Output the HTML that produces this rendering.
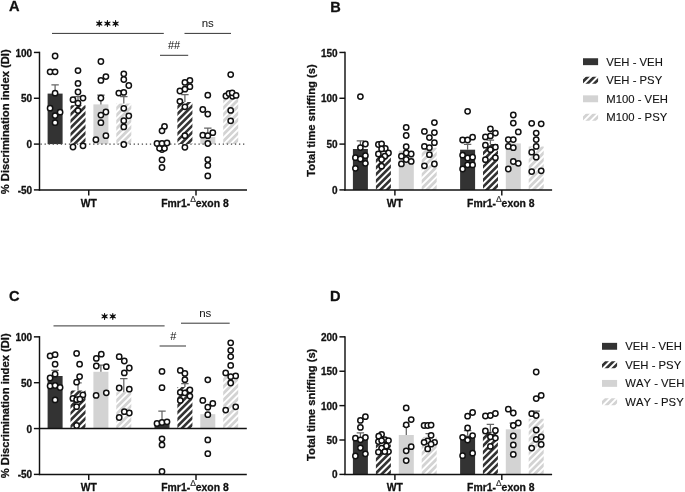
<!DOCTYPE html>
<html><head><meta charset="utf-8"><title>Figure</title>
<style>
html,body{margin:0;padding:0;background:#fff;}
body{width:685px;height:492px;overflow:hidden;font-family:"Liberation Sans",sans-serif;}
svg{display:block;font-family:"Liberation Sans",sans-serif;will-change:transform;filter:blur(0.35px);}
text{fill:#111;}
text[font-weight="bold"]{stroke:#111;stroke-width:0.28px;stroke-linejoin:round;}
</style></head>
<body>
<svg width="685" height="492" viewBox="0 0 685 492">
<rect width="685" height="492" fill="#fff"/>
<g id="content">
<g class="panel">
<rect x="47.60" y="93.60" width="15.00" height="50.50" fill="#333333"/>
<clipPath id="c1"><rect x="70.50" y="105.20" width="15.00" height="38.90"/></clipPath>
<rect x="70.50" y="105.20" width="15.00" height="38.90" fill="#fff"/>
<path d="M68.50 103.42L87.50 84.42M68.50 110.06L87.50 91.06M68.50 116.70L87.50 97.70M68.50 123.34L87.50 104.34M68.50 129.98L87.50 110.98M68.50 136.62L87.50 117.62M68.50 143.26L87.50 124.26M68.50 149.90L87.50 130.90M68.50 156.54L87.50 137.54M68.50 163.18L87.50 144.18" stroke="#333333" stroke-width="2.65" fill="none" clip-path="url(#c1)"/>
<rect x="93.40" y="104.40" width="15.00" height="39.70" fill="#d3d3d3"/>
<clipPath id="c2"><rect x="116.30" y="103.60" width="15.00" height="40.50"/></clipPath>
<rect x="116.30" y="103.60" width="15.00" height="40.50" fill="#fff"/>
<path d="M114.30 104.10L133.30 85.10M114.30 110.74L133.30 91.74M114.30 117.38L133.30 98.38M114.30 124.02L133.30 105.02M114.30 130.66L133.30 111.66M114.30 137.30L133.30 118.30M114.30 143.94L133.30 124.94M114.30 150.58L133.30 131.58M114.30 157.22L133.30 138.22M114.30 163.86L133.30 144.86" stroke="#d3d3d3" stroke-width="2.8" fill="none" clip-path="url(#c2)"/>
<clipPath id="c3"><rect x="177.40" y="102.00" width="15.00" height="42.10"/></clipPath>
<rect x="177.40" y="102.00" width="15.00" height="42.10" fill="#fff"/>
<path d="M175.40 102.76L194.40 83.76M175.40 109.40L194.40 90.40M175.40 116.04L194.40 97.04M175.40 122.68L194.40 103.68M175.40 129.32L194.40 110.32M175.40 135.96L194.40 116.96M175.40 142.60L194.40 123.60M175.40 149.24L194.40 130.24M175.40 155.88L194.40 136.88M175.40 162.52L194.40 143.52" stroke="#333333" stroke-width="2.65" fill="none" clip-path="url(#c3)"/>
<rect x="200.30" y="137.00" width="15.00" height="7.10" fill="#d3d3d3"/>
<clipPath id="c4"><rect x="223.20" y="98.00" width="15.00" height="46.10"/></clipPath>
<rect x="223.20" y="98.00" width="15.00" height="46.10" fill="#fff"/>
<path d="M221.20 96.80L240.20 77.80M221.20 103.44L240.20 84.44M221.20 110.08L240.20 91.08M221.20 116.72L240.20 97.72M221.20 123.36L240.20 104.36M221.20 130.00L240.20 111.00M221.20 136.64L240.20 117.64M221.20 143.28L240.20 124.28M221.20 149.92L240.20 130.92M221.20 156.56L240.20 137.56M221.20 163.20L240.20 144.20" stroke="#d3d3d3" stroke-width="2.8" fill="none" clip-path="url(#c4)"/>
<path d="M55.10 93.60V84.80M51.40 84.80H58.80" stroke="#666" stroke-width="1.25" fill="none"/>
<path d="M78.00 105.20V96.50M74.30 96.50H81.70" stroke="#666" stroke-width="1.25" fill="none"/>
<path d="M100.90 104.40V95.20M97.20 95.20H104.60" stroke="#666" stroke-width="1.25" fill="none"/>
<path d="M123.80 103.60V96.50M120.10 96.50H127.50" stroke="#666" stroke-width="1.25" fill="none"/>
<path d="M184.90 102.00V94.50M181.20 94.50H188.60" stroke="#666" stroke-width="1.25" fill="none"/>
<path d="M207.80 137.00V128.20M204.10 128.20H211.50" stroke="#666" stroke-width="1.25" fill="none"/>
<path d="M40.5 144.1H247" stroke="#444" stroke-width="1.45" stroke-dasharray="1.3 2.75" fill="none"/>
<path d="M39.5 51.73V190.62" stroke="#111111" stroke-width="1.45" fill="none"/>
<path d="M38.78 189.9H247" stroke="#111111" stroke-width="1.45" fill="none"/>
<path d="M33.9 52.45H39.5" stroke="#111111" stroke-width="1.45"/>
<text x="32.10" y="56.50" font-size="10" font-weight="bold" text-anchor="end" >100</text>
<path d="M33.9 98.27H39.5" stroke="#111111" stroke-width="1.45"/>
<text x="32.10" y="102.32" font-size="10" font-weight="bold" text-anchor="end" >50</text>
<path d="M33.9 144.1H39.5" stroke="#111111" stroke-width="1.45"/>
<text x="32.10" y="148.15" font-size="10" font-weight="bold" text-anchor="end" >0</text>
<path d="M33.9 189.9H39.5" stroke="#111111" stroke-width="1.45"/>
<text x="32.10" y="193.95" font-size="10" font-weight="bold" text-anchor="end" >-50</text>
<path d="M88.75 189.9V195.4" stroke="#111111" stroke-width="1.45"/>
<path d="M196 189.9V195.4" stroke="#111111" stroke-width="1.45"/>
<text x="88.75" y="206.90" font-size="10.4" font-weight="bold" text-anchor="middle" >WT</text>
<text x="195.00" y="206.90" font-size="10.4" font-weight="bold" text-anchor="middle">Fmr1-<tspan font-size="8.5" font-weight="normal" stroke="#222" stroke-width="0.1" fill="#222" dy="-5.3">Δ</tspan><tspan dy="5.3">exon 8</tspan></text>
<text transform="translate(8.7 121.8) rotate(-90)" font-size="11.2" font-weight="bold" text-anchor="middle">% Discrimination index (DI)</text>
<g fill="#fff" stroke="#111" stroke-width="1.5">
<circle cx="55.10" cy="56.00" r="2.65"/>
<circle cx="50.10" cy="71.80" r="2.65"/>
<circle cx="55.10" cy="71.80" r="2.65"/>
<circle cx="55.10" cy="93.20" r="2.65"/>
<circle cx="50.10" cy="108.20" r="2.65"/>
<circle cx="60.10" cy="112.20" r="2.65"/>
<circle cx="55.10" cy="115.60" r="2.65"/>
<circle cx="55.10" cy="122.70" r="2.65"/>
<circle cx="78.00" cy="70.60" r="2.65"/>
<circle cx="78.00" cy="83.40" r="2.65"/>
<circle cx="78.00" cy="92.00" r="2.65"/>
<circle cx="73.00" cy="99.70" r="2.65"/>
<circle cx="83.00" cy="98.10" r="2.65"/>
<circle cx="78.00" cy="103.20" r="2.65"/>
<circle cx="78.00" cy="110.60" r="2.65"/>
<circle cx="73.00" cy="147.00" r="2.65"/>
<circle cx="83.00" cy="145.80" r="2.65"/>
<circle cx="100.90" cy="61.50" r="2.65"/>
<circle cx="105.90" cy="76.60" r="2.65"/>
<circle cx="100.90" cy="80.40" r="2.65"/>
<circle cx="100.90" cy="98.00" r="2.65"/>
<circle cx="105.90" cy="112.00" r="2.65"/>
<circle cx="100.90" cy="115.10" r="2.65"/>
<circle cx="100.90" cy="122.70" r="2.65"/>
<circle cx="105.90" cy="135.70" r="2.65"/>
<circle cx="95.90" cy="139.70" r="2.65"/>
<circle cx="123.80" cy="73.80" r="2.65"/>
<circle cx="123.80" cy="79.50" r="2.65"/>
<circle cx="128.80" cy="85.50" r="2.65"/>
<circle cx="118.80" cy="93.10" r="2.65"/>
<circle cx="123.80" cy="92.40" r="2.65"/>
<circle cx="123.80" cy="108.30" r="2.65"/>
<circle cx="128.80" cy="115.80" r="2.65"/>
<circle cx="123.80" cy="120.70" r="2.65"/>
<circle cx="123.80" cy="126.90" r="2.65"/>
<circle cx="123.80" cy="144.50" r="2.65"/>
<circle cx="164.50" cy="126.40" r="2.65"/>
<circle cx="162.00" cy="130.80" r="2.65"/>
<circle cx="157.00" cy="143.50" r="2.65"/>
<circle cx="162.00" cy="143.50" r="2.65"/>
<circle cx="167.00" cy="143.00" r="2.65"/>
<circle cx="162.00" cy="149.50" r="2.65"/>
<circle cx="159.50" cy="148.30" r="2.65"/>
<circle cx="164.50" cy="148.30" r="2.65"/>
<circle cx="162.00" cy="159.80" r="2.65"/>
<circle cx="162.00" cy="167.50" r="2.65"/>
<circle cx="189.90" cy="80.40" r="2.65"/>
<circle cx="184.90" cy="82.40" r="2.65"/>
<circle cx="189.90" cy="86.70" r="2.65"/>
<circle cx="184.90" cy="89.20" r="2.65"/>
<circle cx="179.90" cy="91.00" r="2.65"/>
<circle cx="179.90" cy="101.30" r="2.65"/>
<circle cx="184.90" cy="106.80" r="2.65"/>
<circle cx="184.90" cy="135.70" r="2.65"/>
<circle cx="184.90" cy="147.30" r="2.65"/>
<circle cx="207.80" cy="95.20" r="2.65"/>
<circle cx="202.80" cy="109.50" r="2.65"/>
<circle cx="207.80" cy="114.10" r="2.65"/>
<circle cx="212.80" cy="132.70" r="2.65"/>
<circle cx="202.80" cy="135.20" r="2.65"/>
<circle cx="207.80" cy="135.70" r="2.65"/>
<circle cx="207.80" cy="143.50" r="2.65"/>
<circle cx="207.80" cy="159.60" r="2.65"/>
<circle cx="207.80" cy="165.40" r="2.65"/>
<circle cx="207.80" cy="175.90" r="2.65"/>
<circle cx="230.70" cy="74.60" r="2.65"/>
<circle cx="225.90" cy="96.00" r="2.65"/>
<circle cx="229.00" cy="93.50" r="2.65"/>
<circle cx="232.60" cy="96.30" r="2.65"/>
<circle cx="232.20" cy="92.80" r="2.65"/>
<circle cx="236.10" cy="95.40" r="2.65"/>
<circle cx="230.70" cy="110.40" r="2.65"/>
<circle cx="230.70" cy="120.80" r="2.65"/>
</g>
<path d="M52 33.4H163.8" stroke="#2a2a2a" stroke-width="0.95"/>
<polygon points="98.29,23.58 98.86,27.08 99.62,27.08 100.19,23.58" fill="#111"/>
<polygon points="98.77,24.40 102.08,25.66 102.46,25.00 99.72,22.76" fill="#111"/>
<polygon points="99.72,24.40 102.46,22.16 102.08,21.50 98.77,22.76" fill="#111"/>
<polygon points="100.19,23.58 99.62,20.08 98.86,20.08 98.29,23.58" fill="#111"/>
<polygon points="99.72,22.76 96.40,21.50 96.02,22.16 98.77,24.40" fill="#111"/>
<polygon points="98.77,22.76 96.02,25.00 96.40,25.66 99.72,24.40" fill="#111"/>
<circle cx="99.24" cy="23.58" r="1.35" fill="#111"/>
<polygon points="106.47,23.58 107.04,27.08 107.80,27.08 108.37,23.58" fill="#111"/>
<polygon points="106.95,24.40 110.26,25.66 110.64,25.00 107.89,22.76" fill="#111"/>
<polygon points="107.89,24.40 110.64,22.16 110.26,21.50 106.95,22.76" fill="#111"/>
<polygon points="108.37,23.58 107.80,20.08 107.04,20.08 106.47,23.58" fill="#111"/>
<polygon points="107.89,22.76 104.58,21.50 104.20,22.16 106.95,24.40" fill="#111"/>
<polygon points="106.95,22.76 104.20,25.00 104.58,25.66 107.89,24.40" fill="#111"/>
<circle cx="107.42" cy="23.58" r="1.35" fill="#111"/>
<polygon points="114.65,23.58 115.22,27.08 115.98,27.08 116.55,23.58" fill="#111"/>
<polygon points="115.12,24.40 118.44,25.66 118.82,25.00 116.07,22.76" fill="#111"/>
<polygon points="116.07,24.40 118.82,22.16 118.44,21.50 115.12,22.76" fill="#111"/>
<polygon points="116.55,23.58 115.98,20.08 115.22,20.08 114.65,23.58" fill="#111"/>
<polygon points="116.07,22.76 112.76,21.50 112.38,22.16 115.12,24.40" fill="#111"/>
<polygon points="115.12,22.76 112.38,25.00 112.76,25.66 116.07,24.40" fill="#111"/>
<circle cx="115.60" cy="23.58" r="1.35" fill="#111"/>
<path d="M184.5 33.4H231" stroke="#2a2a2a" stroke-width="0.95"/>
<text x="207.80" y="26.60" font-size="11.5" font-weight="normal" text-anchor="middle" fill="#111">ns</text>
<path d="M160 55.3H188.2" stroke="#2a2a2a" stroke-width="0.95"/>
<text x="174.00" y="49.30" font-size="11" font-weight="normal" text-anchor="middle" fill="#111">##</text>
<text x="9.00" y="11.40" font-size="14.6" font-weight="bold" text-anchor="start" >A</text>
</g>
<g class="panel">
<rect x="352.90" y="149.00" width="15.00" height="40.90" fill="#333333"/>
<clipPath id="c5"><rect x="375.90" y="154.70" width="15.00" height="35.20"/></clipPath>
<rect x="375.90" y="154.70" width="15.00" height="35.20" fill="#fff"/>
<path d="M373.90 156.58L392.90 137.58M373.90 163.22L392.90 144.22M373.90 169.86L392.90 150.86M373.90 176.50L392.90 157.50M373.90 183.14L392.90 164.14M373.90 189.78L392.90 170.78M373.90 196.42L392.90 177.42M373.90 203.06L392.90 184.06M373.90 209.70L392.90 190.70" stroke="#333333" stroke-width="2.65" fill="none" clip-path="url(#c5)"/>
<rect x="398.80" y="150.70" width="15.00" height="39.20" fill="#d3d3d3"/>
<clipPath id="c6"><rect x="421.70" y="147.70" width="15.00" height="42.20"/></clipPath>
<rect x="421.70" y="147.70" width="15.00" height="42.20" fill="#fff"/>
<path d="M419.70 150.62L438.70 131.62M419.70 157.26L438.70 138.26M419.70 163.90L438.70 144.90M419.70 170.54L438.70 151.54M419.70 177.18L438.70 158.18M419.70 183.82L438.70 164.82M419.70 190.46L438.70 171.46M419.70 197.10L438.70 178.10M419.70 203.74L438.70 184.74M419.70 210.38L438.70 191.38" stroke="#d3d3d3" stroke-width="2.8" fill="none" clip-path="url(#c6)"/>
<rect x="460.10" y="149.70" width="15.00" height="40.20" fill="#333333"/>
<clipPath id="c7"><rect x="482.90" y="143.90" width="15.00" height="46.00"/></clipPath>
<rect x="482.90" y="143.90" width="15.00" height="46.00" fill="#fff"/>
<path d="M480.90 142.54L499.90 123.54M480.90 149.18L499.90 130.18M480.90 155.82L499.90 136.82M480.90 162.46L499.90 143.46M480.90 169.10L499.90 150.10M480.90 175.74L499.90 156.74M480.90 182.38L499.90 163.38M480.90 189.02L499.90 170.02M480.90 195.66L499.90 176.66M480.90 202.30L499.90 183.30M480.90 208.94L499.90 189.94" stroke="#333333" stroke-width="2.65" fill="none" clip-path="url(#c7)"/>
<rect x="505.80" y="143.40" width="15.00" height="46.50" fill="#d3d3d3"/>
<clipPath id="c8"><rect x="528.70" y="146.40" width="15.00" height="43.50"/></clipPath>
<rect x="528.70" y="146.40" width="15.00" height="43.50" fill="#fff"/>
<path d="M526.70 149.86L545.70 130.86M526.70 156.50L545.70 137.50M526.70 163.14L545.70 144.14M526.70 169.78L545.70 150.78M526.70 176.42L545.70 157.42M526.70 183.06L545.70 164.06M526.70 189.70L545.70 170.70M526.70 196.34L545.70 177.34M526.70 202.98L545.70 183.98M526.70 209.62L545.70 190.62" stroke="#d3d3d3" stroke-width="2.8" fill="none" clip-path="url(#c8)"/>
<path d="M360.40 149.00V140.90M356.70 140.90H364.10" stroke="#666" stroke-width="1.25" fill="none"/>
<path d="M467.60 149.70V144.40M463.90 144.40H471.30" stroke="#666" stroke-width="1.25" fill="none"/>
<path d="M490.40 143.90V140.20M486.70 140.20H494.10" stroke="#666" stroke-width="1.25" fill="none"/>
<path d="M345 51.73V190.62" stroke="#111111" stroke-width="1.45" fill="none"/>
<path d="M344.28 189.9H552.1" stroke="#111111" stroke-width="1.45" fill="none"/>
<path d="M339.4 52.45H345" stroke="#111111" stroke-width="1.45"/>
<text x="337.60" y="56.50" font-size="10" font-weight="bold" text-anchor="end" >150</text>
<path d="M339.4 98.27H345" stroke="#111111" stroke-width="1.45"/>
<text x="337.60" y="102.32" font-size="10" font-weight="bold" text-anchor="end" >100</text>
<path d="M339.4 144.1H345" stroke="#111111" stroke-width="1.45"/>
<text x="337.60" y="148.15" font-size="10" font-weight="bold" text-anchor="end" >50</text>
<path d="M339.4 189.9H345" stroke="#111111" stroke-width="1.45"/>
<text x="337.60" y="193.95" font-size="10" font-weight="bold" text-anchor="end" >0</text>
<path d="M394.9 189.9V195.4" stroke="#111111" stroke-width="1.45"/>
<path d="M501.8 189.9V195.4" stroke="#111111" stroke-width="1.45"/>
<text x="394.90" y="206.90" font-size="10.4" font-weight="bold" text-anchor="middle" >WT</text>
<text x="500.80" y="206.90" font-size="10.4" font-weight="bold" text-anchor="middle">Fmr1-<tspan font-size="8.5" font-weight="normal" stroke="#222" stroke-width="0.1" fill="#222" dy="-5.3">Δ</tspan><tspan dy="5.3">exon 8</tspan></text>
<text transform="translate(315.1 120.5) rotate(-90)" font-size="11.2" font-weight="bold" text-anchor="middle">Total time sniffing (s)</text>
<g fill="#fff" stroke="#111" stroke-width="1.5">
<circle cx="360.40" cy="96.60" r="2.65"/>
<circle cx="365.40" cy="144.00" r="2.65"/>
<circle cx="360.40" cy="147.60" r="2.65"/>
<circle cx="365.40" cy="155.70" r="2.65"/>
<circle cx="355.40" cy="157.70" r="2.65"/>
<circle cx="360.40" cy="159.00" r="2.65"/>
<circle cx="365.40" cy="163.30" r="2.65"/>
<circle cx="355.40" cy="168.30" r="2.65"/>
<circle cx="378.40" cy="144.50" r="2.65"/>
<circle cx="381.60" cy="143.80" r="2.65"/>
<circle cx="385.30" cy="148.50" r="2.65"/>
<circle cx="381.60" cy="148.90" r="2.65"/>
<circle cx="378.40" cy="154.00" r="2.65"/>
<circle cx="388.50" cy="153.00" r="2.65"/>
<circle cx="384.80" cy="156.20" r="2.65"/>
<circle cx="381.60" cy="159.50" r="2.65"/>
<circle cx="381.60" cy="166.20" r="2.65"/>
<circle cx="406.20" cy="127.40" r="2.65"/>
<circle cx="406.20" cy="135.50" r="2.65"/>
<circle cx="406.20" cy="146.70" r="2.65"/>
<circle cx="406.20" cy="153.00" r="2.65"/>
<circle cx="401.40" cy="156.20" r="2.65"/>
<circle cx="411.20" cy="154.00" r="2.65"/>
<circle cx="406.20" cy="159.50" r="2.65"/>
<circle cx="411.20" cy="161.40" r="2.65"/>
<circle cx="401.40" cy="163.90" r="2.65"/>
<circle cx="434.40" cy="122.60" r="2.65"/>
<circle cx="424.40" cy="131.40" r="2.65"/>
<circle cx="434.40" cy="132.60" r="2.65"/>
<circle cx="429.40" cy="137.60" r="2.65"/>
<circle cx="434.40" cy="142.70" r="2.65"/>
<circle cx="424.40" cy="146.40" r="2.65"/>
<circle cx="429.40" cy="147.70" r="2.65"/>
<circle cx="429.40" cy="154.70" r="2.65"/>
<circle cx="434.40" cy="164.00" r="2.65"/>
<circle cx="424.40" cy="165.80" r="2.65"/>
<circle cx="467.60" cy="111.30" r="2.65"/>
<circle cx="462.60" cy="140.00" r="2.65"/>
<circle cx="467.60" cy="140.00" r="2.65"/>
<circle cx="472.60" cy="137.20" r="2.65"/>
<circle cx="462.60" cy="155.20" r="2.65"/>
<circle cx="467.60" cy="158.00" r="2.65"/>
<circle cx="472.60" cy="157.20" r="2.65"/>
<circle cx="467.60" cy="164.80" r="2.65"/>
<circle cx="472.60" cy="164.90" r="2.65"/>
<circle cx="462.60" cy="169.00" r="2.65"/>
<circle cx="490.40" cy="128.80" r="2.65"/>
<circle cx="495.40" cy="133.10" r="2.65"/>
<circle cx="485.40" cy="136.90" r="2.65"/>
<circle cx="490.40" cy="135.90" r="2.65"/>
<circle cx="485.40" cy="145.20" r="2.65"/>
<circle cx="495.40" cy="147.20" r="2.65"/>
<circle cx="490.40" cy="149.70" r="2.65"/>
<circle cx="495.40" cy="157.70" r="2.65"/>
<circle cx="485.40" cy="159.70" r="2.65"/>
<circle cx="513.30" cy="115.00" r="2.65"/>
<circle cx="513.30" cy="123.10" r="2.65"/>
<circle cx="518.30" cy="131.90" r="2.65"/>
<circle cx="508.30" cy="139.60" r="2.65"/>
<circle cx="513.30" cy="139.60" r="2.65"/>
<circle cx="508.30" cy="146.40" r="2.65"/>
<circle cx="513.30" cy="147.70" r="2.65"/>
<circle cx="513.30" cy="161.50" r="2.65"/>
<circle cx="518.30" cy="163.30" r="2.65"/>
<circle cx="508.30" cy="169.00" r="2.65"/>
<circle cx="531.70" cy="123.30" r="2.65"/>
<circle cx="541.20" cy="123.80" r="2.65"/>
<circle cx="536.20" cy="133.10" r="2.65"/>
<circle cx="536.20" cy="139.60" r="2.65"/>
<circle cx="536.20" cy="146.40" r="2.65"/>
<circle cx="531.70" cy="152.20" r="2.65"/>
<circle cx="536.20" cy="157.20" r="2.65"/>
<circle cx="541.20" cy="170.80" r="2.65"/>
<circle cx="531.70" cy="171.60" r="2.65"/>
</g>
<text x="330.20" y="11.60" font-size="14.6" font-weight="bold" text-anchor="start" >B</text>
</g>
<g class="panel">
<rect x="47.60" y="376.00" width="15.00" height="52.55" fill="#333333"/>
<clipPath id="c9"><rect x="70.50" y="390.40" width="15.00" height="38.15"/></clipPath>
<rect x="70.50" y="390.40" width="15.00" height="38.15" fill="#fff"/>
<path d="M68.50 388.94L87.50 369.94M68.50 395.58L87.50 376.58M68.50 402.22L87.50 383.22M68.50 408.86L87.50 389.86M68.50 415.50L87.50 396.50M68.50 422.14L87.50 403.14M68.50 428.78L87.50 409.78M68.50 435.42L87.50 416.42M68.50 442.06L87.50 423.06M68.50 448.70L87.50 429.70" stroke="#333333" stroke-width="2.65" fill="none" clip-path="url(#c9)"/>
<rect x="93.40" y="371.80" width="15.00" height="56.75" fill="#d3d3d3"/>
<clipPath id="c10"><rect x="116.30" y="392.30" width="15.00" height="36.25"/></clipPath>
<rect x="116.30" y="392.30" width="15.00" height="36.25" fill="#fff"/>
<path d="M114.30 396.26L133.30 377.26M114.30 402.90L133.30 383.90M114.30 409.54L133.30 390.54M114.30 416.18L133.30 397.18M114.30 422.82L133.30 403.82M114.30 429.46L133.30 410.46M114.30 436.10L133.30 417.10M114.30 442.74L133.30 423.74M114.30 449.38L133.30 430.38" stroke="#d3d3d3" stroke-width="2.8" fill="none" clip-path="url(#c10)"/>
<rect x="154.50" y="423.30" width="15.00" height="5.25" fill="#333333"/>
<clipPath id="c11"><rect x="177.40" y="387.10" width="15.00" height="41.45"/></clipPath>
<rect x="177.40" y="387.10" width="15.00" height="41.45" fill="#fff"/>
<path d="M175.40 388.28L194.40 369.28M175.40 394.92L194.40 375.92M175.40 401.56L194.40 382.56M175.40 408.20L194.40 389.20M175.40 414.84L194.40 395.84M175.40 421.48L194.40 402.48M175.40 428.12L194.40 409.12M175.40 434.76L194.40 415.76M175.40 441.40L194.40 422.40M175.40 448.04L194.40 429.04" stroke="#333333" stroke-width="2.65" fill="none" clip-path="url(#c11)"/>
<rect x="200.30" y="414.20" width="15.00" height="14.35" fill="#d3d3d3"/>
<clipPath id="c12"><rect x="223.20" y="374.00" width="15.00" height="54.55"/></clipPath>
<rect x="223.20" y="374.00" width="15.00" height="54.55" fill="#fff"/>
<path d="M221.20 375.68L240.20 356.68M221.20 382.32L240.20 363.32M221.20 388.96L240.20 369.96M221.20 395.60L240.20 376.60M221.20 402.24L240.20 383.24M221.20 408.88L240.20 389.88M221.20 415.52L240.20 396.52M221.20 422.16L240.20 403.16M221.20 428.80L240.20 409.80M221.20 435.44L240.20 416.44M221.20 442.08L240.20 423.08M221.20 448.72L240.20 429.72" stroke="#d3d3d3" stroke-width="2.8" fill="none" clip-path="url(#c12)"/>
<path d="M55.10 376.00V370.30M51.40 370.30H58.80" stroke="#666" stroke-width="1.25" fill="none"/>
<path d="M78.00 390.40V382.80M74.30 382.80H81.70" stroke="#666" stroke-width="1.25" fill="none"/>
<path d="M100.90 371.80V365.00M97.20 365.00H104.60" stroke="#666" stroke-width="1.25" fill="none"/>
<path d="M123.80 392.30V378.50M120.10 378.50H127.50" stroke="#666" stroke-width="1.25" fill="none"/>
<path d="M162.00 423.30V411.20M158.30 411.20H165.70" stroke="#666" stroke-width="1.25" fill="none"/>
<path d="M184.90 387.10V383.60M181.20 383.60H188.60" stroke="#666" stroke-width="1.25" fill="none"/>
<path d="M39.5 428.55H246.8" stroke="#111111" stroke-width="1.45" fill="none"/>
<path d="M39.5 336.13V475.12" stroke="#111111" stroke-width="1.45" fill="none"/>
<path d="M38.78 474.4H246.8" stroke="#111111" stroke-width="1.45" fill="none"/>
<path d="M33.9 336.85H39.5" stroke="#111111" stroke-width="1.45"/>
<text x="32.10" y="340.90" font-size="10" font-weight="bold" text-anchor="end" >100</text>
<path d="M33.9 382.7H39.5" stroke="#111111" stroke-width="1.45"/>
<text x="32.10" y="386.75" font-size="10" font-weight="bold" text-anchor="end" >50</text>
<path d="M33.9 428.55H39.5" stroke="#111111" stroke-width="1.45"/>
<text x="32.10" y="432.60" font-size="10" font-weight="bold" text-anchor="end" >0</text>
<path d="M33.9 474.4H39.5" stroke="#111111" stroke-width="1.45"/>
<text x="32.10" y="478.45" font-size="10" font-weight="bold" text-anchor="end" >-50</text>
<path d="M88.75 474.4V479.9" stroke="#111111" stroke-width="1.45"/>
<path d="M196 474.4V479.9" stroke="#111111" stroke-width="1.45"/>
<text x="88.75" y="491.00" font-size="10.4" font-weight="bold" text-anchor="middle" >WT</text>
<text x="195.00" y="491.00" font-size="10.4" font-weight="bold" text-anchor="middle">Fmr1-<tspan font-size="8.5" font-weight="normal" stroke="#222" stroke-width="0.1" fill="#222" dy="-5.3">Δ</tspan><tspan dy="5.3">exon 8</tspan></text>
<text transform="translate(8.7 405.8) rotate(-90)" font-size="11.2" font-weight="bold" text-anchor="middle">% Discrimination index (DI)</text>
<g fill="#fff" stroke="#111" stroke-width="1.5">
<circle cx="50.10" cy="355.90" r="2.65"/>
<circle cx="55.10" cy="354.70" r="2.65"/>
<circle cx="55.10" cy="364.20" r="2.65"/>
<circle cx="55.10" cy="374.20" r="2.65"/>
<circle cx="50.10" cy="378.00" r="2.65"/>
<circle cx="50.10" cy="386.00" r="2.65"/>
<circle cx="55.10" cy="385.50" r="2.65"/>
<circle cx="60.10" cy="387.50" r="2.65"/>
<circle cx="55.10" cy="399.90" r="2.65"/>
<circle cx="76.60" cy="353.40" r="2.65"/>
<circle cx="79.60" cy="364.20" r="2.65"/>
<circle cx="79.60" cy="376.60" r="2.65"/>
<circle cx="76.60" cy="382.20" r="2.65"/>
<circle cx="82.90" cy="394.90" r="2.65"/>
<circle cx="72.90" cy="398.40" r="2.65"/>
<circle cx="76.60" cy="399.70" r="2.65"/>
<circle cx="79.90" cy="399.20" r="2.65"/>
<circle cx="76.60" cy="406.70" r="2.65"/>
<circle cx="76.60" cy="425.50" r="2.65"/>
<circle cx="101.30" cy="354.20" r="2.65"/>
<circle cx="96.30" cy="358.40" r="2.65"/>
<circle cx="96.30" cy="366.00" r="2.65"/>
<circle cx="106.30" cy="366.70" r="2.65"/>
<circle cx="106.30" cy="392.80" r="2.65"/>
<circle cx="96.10" cy="395.40" r="2.65"/>
<circle cx="119.20" cy="356.70" r="2.65"/>
<circle cx="124.30" cy="361.00" r="2.65"/>
<circle cx="129.30" cy="368.00" r="2.65"/>
<circle cx="124.30" cy="372.90" r="2.65"/>
<circle cx="119.20" cy="388.00" r="2.65"/>
<circle cx="129.30" cy="389.20" r="2.65"/>
<circle cx="124.30" cy="411.70" r="2.65"/>
<circle cx="129.30" cy="413.00" r="2.65"/>
<circle cx="119.20" cy="417.50" r="2.65"/>
<circle cx="162.00" cy="371.40" r="2.65"/>
<circle cx="162.00" cy="387.70" r="2.65"/>
<circle cx="157.00" cy="423.50" r="2.65"/>
<circle cx="162.00" cy="422.50" r="2.65"/>
<circle cx="167.00" cy="421.80" r="2.65"/>
<circle cx="162.00" cy="438.80" r="2.65"/>
<circle cx="162.00" cy="444.90" r="2.65"/>
<circle cx="162.00" cy="471.50" r="2.65"/>
<circle cx="180.30" cy="370.40" r="2.65"/>
<circle cx="184.90" cy="373.40" r="2.65"/>
<circle cx="184.90" cy="379.70" r="2.65"/>
<circle cx="189.90" cy="390.00" r="2.65"/>
<circle cx="180.30" cy="392.30" r="2.65"/>
<circle cx="184.90" cy="392.80" r="2.65"/>
<circle cx="189.90" cy="396.10" r="2.65"/>
<circle cx="180.30" cy="400.40" r="2.65"/>
<circle cx="207.80" cy="379.80" r="2.65"/>
<circle cx="202.80" cy="400.40" r="2.65"/>
<circle cx="212.80" cy="403.40" r="2.65"/>
<circle cx="207.80" cy="407.20" r="2.65"/>
<circle cx="207.80" cy="414.70" r="2.65"/>
<circle cx="207.80" cy="439.90" r="2.65"/>
<circle cx="207.80" cy="453.70" r="2.65"/>
<circle cx="230.70" cy="342.80" r="2.65"/>
<circle cx="230.70" cy="350.30" r="2.65"/>
<circle cx="230.70" cy="356.60" r="2.65"/>
<circle cx="230.70" cy="365.40" r="2.65"/>
<circle cx="225.70" cy="372.90" r="2.65"/>
<circle cx="235.70" cy="375.90" r="2.65"/>
<circle cx="230.70" cy="376.70" r="2.65"/>
<circle cx="230.70" cy="383.00" r="2.65"/>
<circle cx="235.70" cy="406.80" r="2.65"/>
<circle cx="225.70" cy="410.10" r="2.65"/>
</g>
<path d="M53.5 325.9H164.6" stroke="#2a2a2a" stroke-width="0.95"/>
<polygon points="103.66,316.40 104.23,319.90 104.99,319.90 105.56,316.40" fill="#111"/>
<polygon points="104.14,317.22 107.45,318.48 107.83,317.82 105.08,315.58" fill="#111"/>
<polygon points="105.08,317.22 107.83,314.98 107.45,314.32 104.14,315.58" fill="#111"/>
<polygon points="105.56,316.40 104.99,312.90 104.23,312.90 103.66,316.40" fill="#111"/>
<polygon points="105.08,315.58 101.77,314.32 101.39,314.98 104.14,317.22" fill="#111"/>
<polygon points="104.14,315.58 101.39,317.82 101.77,318.48 105.08,317.22" fill="#111"/>
<circle cx="104.61" cy="316.40" r="1.35" fill="#111"/>
<polygon points="111.84,316.40 112.41,319.90 113.17,319.90 113.74,316.40" fill="#111"/>
<polygon points="112.32,317.22 115.63,318.48 116.01,317.82 113.27,315.58" fill="#111"/>
<polygon points="113.27,317.22 116.01,314.98 115.63,314.32 112.32,315.58" fill="#111"/>
<polygon points="113.74,316.40 113.17,312.90 112.41,312.90 111.84,316.40" fill="#111"/>
<polygon points="113.27,315.58 109.95,314.32 109.57,314.98 112.32,317.22" fill="#111"/>
<polygon points="112.32,315.58 109.57,317.82 109.95,318.48 113.27,317.22" fill="#111"/>
<circle cx="112.79" cy="316.40" r="1.35" fill="#111"/>
<path d="M181 323.2H229.7" stroke="#2a2a2a" stroke-width="0.95"/>
<text x="205.30" y="316.60" font-size="11.5" font-weight="normal" text-anchor="middle" fill="#111">ns</text>
<path d="M159.6 346H186" stroke="#2a2a2a" stroke-width="0.95"/>
<text x="173.20" y="339.80" font-size="11" font-weight="normal" text-anchor="middle" fill="#111">#</text>
<text x="9.00" y="301.00" font-size="14.6" font-weight="bold" text-anchor="start" >C</text>
</g>
<g class="panel">
<rect x="352.90" y="438.80" width="15.00" height="35.60" fill="#333333"/>
<clipPath id="c13"><rect x="375.90" y="444.40" width="15.00" height="30.00"/></clipPath>
<rect x="375.90" y="444.40" width="15.00" height="30.00" fill="#fff"/>
<path d="M373.90 448.74L392.90 429.74M373.90 455.38L392.90 436.38M373.90 462.02L392.90 443.02M373.90 468.66L392.90 449.66M373.90 475.30L392.90 456.30M373.90 481.94L392.90 462.94M373.90 488.58L392.90 469.58M373.90 495.22L392.90 476.22" stroke="#333333" stroke-width="2.65" fill="none" clip-path="url(#c13)"/>
<rect x="398.80" y="435.00" width="15.00" height="39.40" fill="#d3d3d3"/>
<clipPath id="c14"><rect x="421.70" y="436.80" width="15.00" height="37.60"/></clipPath>
<rect x="421.70" y="436.80" width="15.00" height="37.60" fill="#fff"/>
<path d="M419.70 436.14L438.70 417.14M419.70 442.78L438.70 423.78M419.70 449.42L438.70 430.42M419.70 456.06L438.70 437.06M419.70 462.70L438.70 443.70M419.70 469.34L438.70 450.34M419.70 475.98L438.70 456.98M419.70 482.62L438.70 463.62M419.70 489.26L438.70 470.26" stroke="#d3d3d3" stroke-width="2.8" fill="none" clip-path="url(#c14)"/>
<rect x="460.10" y="435.60" width="15.00" height="38.80" fill="#333333"/>
<clipPath id="c15"><rect x="482.90" y="431.80" width="15.00" height="42.60"/></clipPath>
<rect x="482.90" y="431.80" width="15.00" height="42.60" fill="#fff"/>
<path d="M480.90 434.70L499.90 415.70M480.90 441.34L499.90 422.34M480.90 447.98L499.90 428.98M480.90 454.62L499.90 435.62M480.90 461.26L499.90 442.26M480.90 467.90L499.90 448.90M480.90 474.54L499.90 455.54M480.90 481.18L499.90 462.18M480.90 487.82L499.90 468.82M480.90 494.46L499.90 475.46" stroke="#333333" stroke-width="2.65" fill="none" clip-path="url(#c15)"/>
<rect x="505.80" y="429.30" width="15.00" height="45.10" fill="#d3d3d3"/>
<clipPath id="c16"><rect x="528.70" y="418.70" width="15.00" height="55.70"/></clipPath>
<rect x="528.70" y="418.70" width="15.00" height="55.70" fill="#fff"/>
<path d="M526.70 422.10L545.70 403.10M526.70 428.74L545.70 409.74M526.70 435.38L545.70 416.38M526.70 442.02L545.70 423.02M526.70 448.66L545.70 429.66M526.70 455.30L545.70 436.30M526.70 461.94L545.70 442.94M526.70 468.58L545.70 449.58M526.70 475.22L545.70 456.22M526.70 481.86L545.70 462.86M526.70 488.50L545.70 469.50M526.70 495.14L545.70 476.14" stroke="#d3d3d3" stroke-width="2.8" fill="none" clip-path="url(#c16)"/>
<path d="M360.40 438.80V432.80M356.70 432.80H364.10" stroke="#666" stroke-width="1.25" fill="none"/>
<path d="M406.30 435.00V426.40M402.60 426.40H410.00" stroke="#666" stroke-width="1.25" fill="none"/>
<path d="M429.20 436.80V433.60M425.50 433.60H432.90" stroke="#666" stroke-width="1.25" fill="none"/>
<path d="M467.60 435.60V430.50M463.90 430.50H471.30" stroke="#666" stroke-width="1.25" fill="none"/>
<path d="M490.40 431.80V424.30M486.70 424.30H494.10" stroke="#666" stroke-width="1.25" fill="none"/>
<path d="M513.30 429.30V423.00M509.60 423.00H517.00" stroke="#666" stroke-width="1.25" fill="none"/>
<path d="M536.20 418.70V411.20M532.50 411.20H539.90" stroke="#666" stroke-width="1.25" fill="none"/>
<path d="M345 336.13V475.12" stroke="#111111" stroke-width="1.45" fill="none"/>
<path d="M344.28 474.4H552.1" stroke="#111111" stroke-width="1.45" fill="none"/>
<path d="M339.4 336.85H345" stroke="#111111" stroke-width="1.45"/>
<text x="337.60" y="340.90" font-size="10" font-weight="bold" text-anchor="end" >200</text>
<path d="M339.4 371.24H345" stroke="#111111" stroke-width="1.45"/>
<text x="337.60" y="375.29" font-size="10" font-weight="bold" text-anchor="end" >150</text>
<path d="M339.4 405.62H345" stroke="#111111" stroke-width="1.45"/>
<text x="337.60" y="409.67" font-size="10" font-weight="bold" text-anchor="end" >100</text>
<path d="M339.4 440.0H345" stroke="#111111" stroke-width="1.45"/>
<text x="337.60" y="444.05" font-size="10" font-weight="bold" text-anchor="end" >50</text>
<path d="M339.4 474.4H345" stroke="#111111" stroke-width="1.45"/>
<text x="337.60" y="478.45" font-size="10" font-weight="bold" text-anchor="end" >0</text>
<path d="M394.9 474.4V479.9" stroke="#111111" stroke-width="1.45"/>
<path d="M501.8 474.4V479.9" stroke="#111111" stroke-width="1.45"/>
<text x="394.90" y="491.00" font-size="10.4" font-weight="bold" text-anchor="middle" >WT</text>
<text x="500.80" y="491.00" font-size="10.4" font-weight="bold" text-anchor="middle">Fmr1-<tspan font-size="8.5" font-weight="normal" stroke="#222" stroke-width="0.1" fill="#222" dy="-5.3">Δ</tspan><tspan dy="5.3">exon 8</tspan></text>
<text transform="translate(315.1 404.8) rotate(-90)" font-size="11.2" font-weight="bold" text-anchor="middle">Total time sniffing (s)</text>
<g fill="#fff" stroke="#111" stroke-width="1.5">
<circle cx="365.40" cy="416.70" r="2.65"/>
<circle cx="360.40" cy="420.40" r="2.65"/>
<circle cx="360.40" cy="427.40" r="2.65"/>
<circle cx="355.40" cy="438.20" r="2.65"/>
<circle cx="365.40" cy="437.50" r="2.65"/>
<circle cx="360.40" cy="439.80" r="2.65"/>
<circle cx="360.40" cy="447.80" r="2.65"/>
<circle cx="365.40" cy="453.80" r="2.65"/>
<circle cx="355.40" cy="456.00" r="2.65"/>
<circle cx="381.60" cy="434.30" r="2.65"/>
<circle cx="378.70" cy="436.20" r="2.65"/>
<circle cx="384.80" cy="439.70" r="2.65"/>
<circle cx="388.50" cy="440.60" r="2.65"/>
<circle cx="378.40" cy="441.60" r="2.65"/>
<circle cx="381.60" cy="440.60" r="2.65"/>
<circle cx="386.40" cy="446.00" r="2.65"/>
<circle cx="381.60" cy="448.20" r="2.65"/>
<circle cx="388.50" cy="451.60" r="2.65"/>
<circle cx="378.40" cy="452.10" r="2.65"/>
<circle cx="384.80" cy="451.60" r="2.65"/>
<circle cx="406.20" cy="407.90" r="2.65"/>
<circle cx="411.20" cy="419.60" r="2.65"/>
<circle cx="406.20" cy="424.80" r="2.65"/>
<circle cx="411.20" cy="446.70" r="2.65"/>
<circle cx="406.20" cy="450.80" r="2.65"/>
<circle cx="406.20" cy="460.60" r="2.65"/>
<circle cx="424.10" cy="425.50" r="2.65"/>
<circle cx="427.70" cy="425.50" r="2.65"/>
<circle cx="431.10" cy="425.10" r="2.65"/>
<circle cx="431.10" cy="435.30" r="2.65"/>
<circle cx="427.70" cy="440.90" r="2.65"/>
<circle cx="424.10" cy="442.30" r="2.65"/>
<circle cx="434.60" cy="442.30" r="2.65"/>
<circle cx="431.10" cy="444.20" r="2.65"/>
<circle cx="427.70" cy="448.90" r="2.65"/>
<circle cx="472.60" cy="412.50" r="2.65"/>
<circle cx="467.60" cy="416.20" r="2.65"/>
<circle cx="467.60" cy="428.00" r="2.65"/>
<circle cx="462.60" cy="437.30" r="2.65"/>
<circle cx="472.60" cy="435.60" r="2.65"/>
<circle cx="467.60" cy="440.10" r="2.65"/>
<circle cx="472.60" cy="453.20" r="2.65"/>
<circle cx="462.60" cy="455.70" r="2.65"/>
<circle cx="485.40" cy="416.00" r="2.65"/>
<circle cx="490.40" cy="415.50" r="2.65"/>
<circle cx="495.40" cy="413.50" r="2.65"/>
<circle cx="485.40" cy="431.00" r="2.65"/>
<circle cx="495.40" cy="430.50" r="2.65"/>
<circle cx="490.40" cy="436.80" r="2.65"/>
<circle cx="495.40" cy="438.10" r="2.65"/>
<circle cx="490.40" cy="446.40" r="2.65"/>
<circle cx="508.30" cy="409.20" r="2.65"/>
<circle cx="513.30" cy="413.00" r="2.65"/>
<circle cx="518.30" cy="423.00" r="2.65"/>
<circle cx="513.30" cy="425.50" r="2.65"/>
<circle cx="513.30" cy="436.00" r="2.65"/>
<circle cx="513.30" cy="444.90" r="2.65"/>
<circle cx="513.30" cy="454.40" r="2.65"/>
<circle cx="536.20" cy="372.00" r="2.65"/>
<circle cx="541.20" cy="395.40" r="2.65"/>
<circle cx="536.20" cy="398.60" r="2.65"/>
<circle cx="531.70" cy="413.70" r="2.65"/>
<circle cx="536.20" cy="415.50" r="2.65"/>
<circle cx="536.20" cy="430.00" r="2.65"/>
<circle cx="541.20" cy="436.80" r="2.65"/>
<circle cx="536.20" cy="439.30" r="2.65"/>
<circle cx="541.20" cy="444.40" r="2.65"/>
<circle cx="531.70" cy="448.10" r="2.65"/>
</g>
<text x="330.00" y="300.90" font-size="14.6" font-weight="bold" text-anchor="start" >D</text>
</g>
<rect x="583" y="58.25" width="15.1" height="6.9" fill="#333333"/>
<text x="606.30" y="65.70" font-size="11.3" font-weight="normal" text-anchor="start" fill="#1a1a1a" stroke="#1a1a1a" stroke-width="0.12" style="font-kerning:none">VEH - VEH</text>
<clipPath id="c17"><rect x="583.00" y="76.75" width="15.10" height="6.90"/></clipPath>
<rect x="583.00" y="76.75" width="15.10" height="6.90" fill="#fff"/>
<path d="M581.00 76.89L600.10 57.79M581.00 83.53L600.10 64.43M581.00 90.17L600.10 71.07M581.00 96.81L600.10 77.71M581.00 103.45L600.10 84.35" stroke="#333333" stroke-width="2.7" fill="none" clip-path="url(#c17)"/>
<text x="606.30" y="84.20" font-size="11.3" font-weight="normal" text-anchor="start" fill="#1a1a1a" stroke="#1a1a1a" stroke-width="0.12" style="font-kerning:none">VEH - PSY</text>
<rect x="583" y="95.35" width="15.1" height="6.9" fill="#d3d3d3"/>
<text x="606.30" y="102.80" font-size="11.3" font-weight="normal" text-anchor="start" fill="#1a1a1a" stroke="#1a1a1a" stroke-width="0.12" style="font-kerning:none">M100 - VEH</text>
<clipPath id="c18"><rect x="583.00" y="113.75" width="15.10" height="6.90"/></clipPath>
<rect x="583.00" y="113.75" width="15.10" height="6.90" fill="#fff"/>
<path d="M581.00 113.89L600.10 94.79M581.00 120.53L600.10 101.43M581.00 127.17L600.10 108.07M581.00 133.81L600.10 114.71M581.00 140.45L600.10 121.35" stroke="#d3d3d3" stroke-width="2.8" fill="none" clip-path="url(#c18)"/>
<text x="606.30" y="121.20" font-size="11.3" font-weight="normal" text-anchor="start" fill="#1a1a1a" stroke="#1a1a1a" stroke-width="0.12" style="font-kerning:none">M100 - PSY</text>
<rect x="602" y="342.85" width="15.1" height="6.9" fill="#333333"/>
<text x="625.30" y="350.30" font-size="11.3" font-weight="normal" text-anchor="start" fill="#1a1a1a" stroke="#1a1a1a" stroke-width="0.12" style="font-kerning:none">VEH - VEH</text>
<clipPath id="c19"><rect x="602.00" y="361.35" width="15.10" height="6.90"/></clipPath>
<rect x="602.00" y="361.35" width="15.10" height="6.90" fill="#fff"/>
<path d="M600.00 361.49L619.10 342.39M600.00 368.13L619.10 349.03M600.00 374.77L619.10 355.67M600.00 381.41L619.10 362.31M600.00 388.05L619.10 368.95" stroke="#333333" stroke-width="2.7" fill="none" clip-path="url(#c19)"/>
<text x="625.30" y="368.80" font-size="11.3" font-weight="normal" text-anchor="start" fill="#1a1a1a" stroke="#1a1a1a" stroke-width="0.12" style="font-kerning:none">VEH - PSY</text>
<rect x="602" y="379.95" width="15.1" height="6.9" fill="#d3d3d3"/>
<text x="625.30" y="387.40" font-size="11.3" font-weight="normal" text-anchor="start" fill="#1a1a1a" stroke="#1a1a1a" stroke-width="0.12" style="font-kerning:none">WAY - VEH</text>
<clipPath id="c20"><rect x="602.00" y="398.25" width="15.10" height="6.90"/></clipPath>
<rect x="602.00" y="398.25" width="15.10" height="6.90" fill="#fff"/>
<path d="M600.00 398.39L619.10 379.29M600.00 405.03L619.10 385.93M600.00 411.67L619.10 392.57M600.00 418.31L619.10 399.21M600.00 424.95L619.10 405.85" stroke="#d3d3d3" stroke-width="2.8" fill="none" clip-path="url(#c20)"/>
<text x="625.30" y="405.70" font-size="11.3" font-weight="normal" text-anchor="start" fill="#1a1a1a" stroke="#1a1a1a" stroke-width="0.12" style="font-kerning:none">WAY - PSY</text>
</g>
</svg>
</body></html>
